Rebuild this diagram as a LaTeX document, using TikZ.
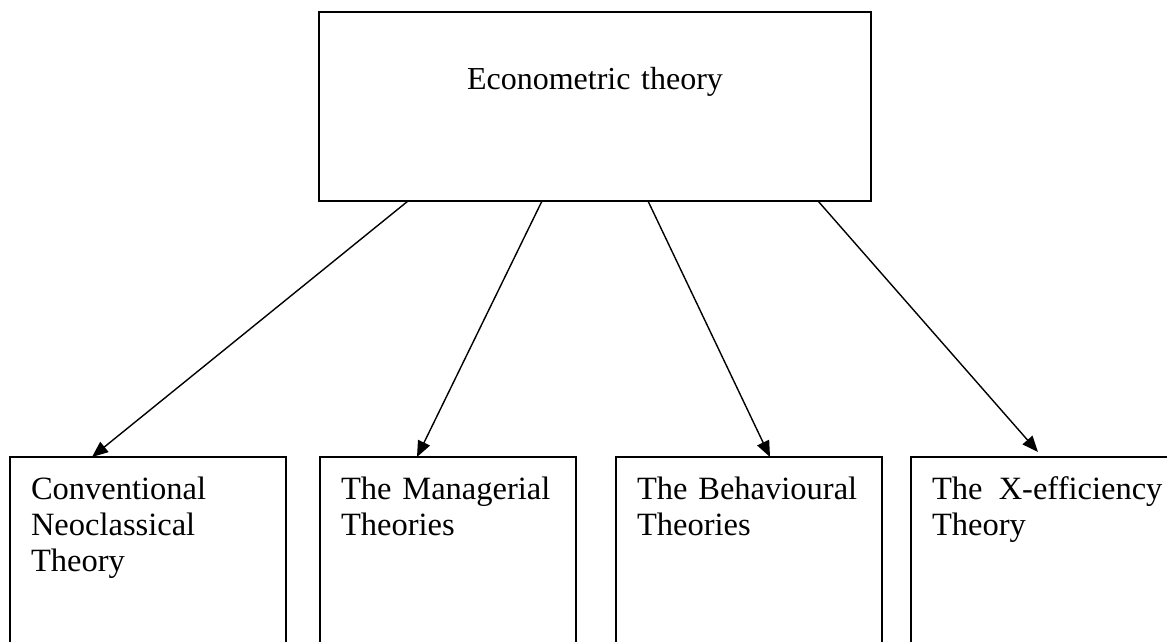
\documentclass[tikz,border=0pt]{standalone}
\usepackage{fontspec}
\setmainfont{Liberation Serif}
\usetikzlibrary{arrows.meta,positioning}
\begin{document}
\begin{tikzpicture}[x=1pt, y=1pt,
  head/.style={draw, line width=2pt, outer sep=0pt, inner xsep=0pt, inner ysep=0pt,
    align=center, text width=552pt, text height=78pt, text depth=111pt,
    font=\fontsize{32}{36}\selectfont},
  theory/.style={draw, line width=1.9pt, outer sep=0pt, inner xsep=21pt, inner ysep=0pt,
    align=left, text height=42pt, text depth=160pt, font=\fontsize{32.5}{36}\selectfont},
  arr/.style={-{Triangle[length=16pt, width=13pt]}, line width=1.4pt}
]
\useasboundingbox (0,0) rectangle (1167,641);
\node[head, anchor=north west] (econ) at (319,629) {Econometric theory};
\node[theory, text width=234pt, anchor=north west] (neo) at (10,184) {Conventional\\ Neoclassical\\ Theory};
\node[theory, text width=214pt, right=34pt of neo] (man) {The Managerial\\ Theories};
\node[theory, text width=224pt, right=40pt of man] (beh) {The Behavioural\\ Theories};
\node[theory, text width=240pt, right=29pt of beh] (xeff) {The\ \,X-efficiency\\ Theory};
\draw[arr] ([xshift=89pt]econ.south west) -- ([xshift=82pt]neo.north west);
\draw[arr] ([xshift=223pt]econ.south west) -- ([xshift=97pt]man.north west);
\draw[arr] ([xshift=329pt]econ.south west) -- ([xshift=154pt]beh.north west);
\draw[arr] ([xshift=499pt]econ.south west) -- ([xshift=127pt, yshift=5pt]xeff.north west);
\end{tikzpicture}
\end{document}
